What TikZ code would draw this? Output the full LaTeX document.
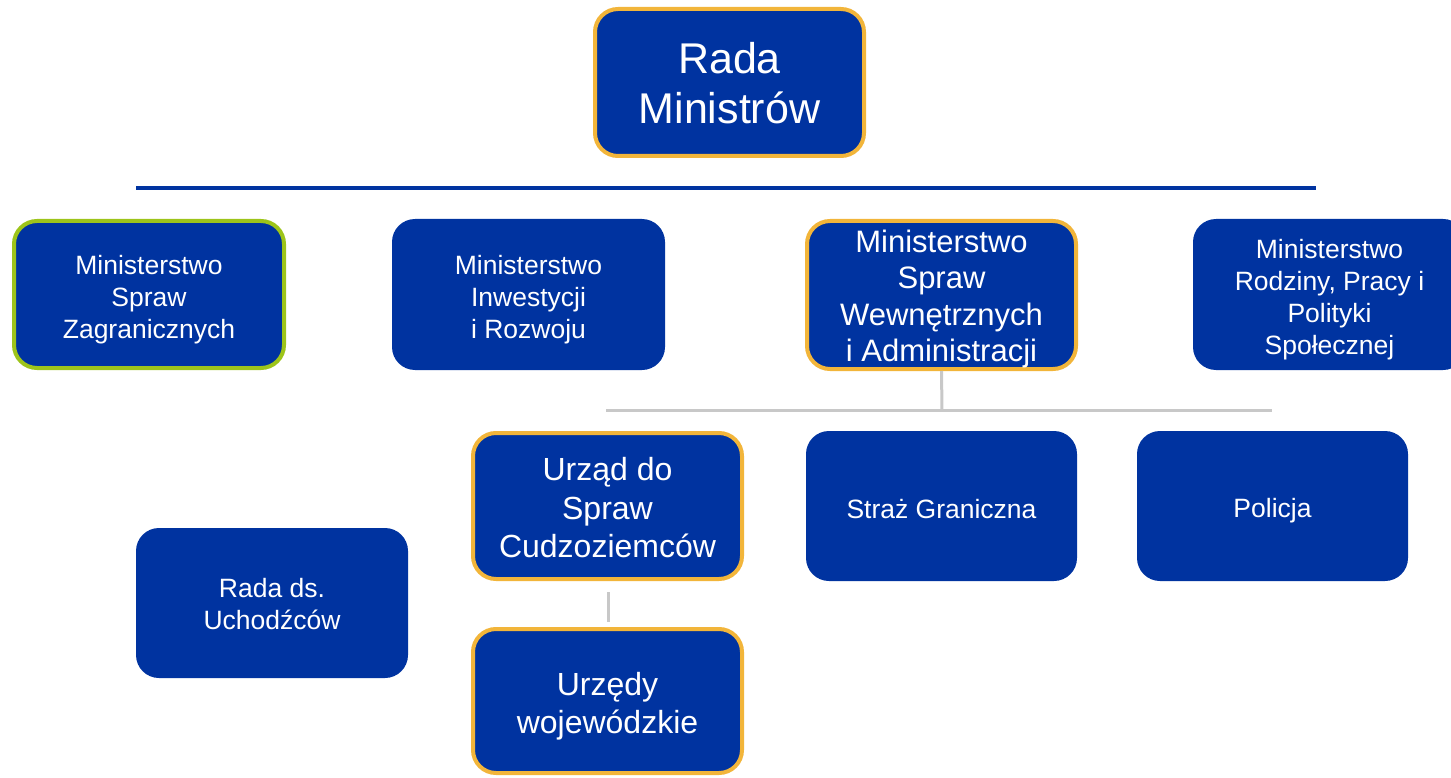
\documentclass[tikz,border=0pt]{standalone}
\usepackage{fontspec}
\setmainfont{Liberation Sans}
\definecolor{boxblue}{HTML}{0033A0}
\definecolor{bordorange}{HTML}{F2B53A}
\definecolor{bordgreen}{HTML}{9DC41A}
\definecolor{linegray}{HTML}{C8C8C8}
\begin{document}
\begin{tikzpicture}[x=1pt,y=-1pt,
  box/.style={rectangle, rounded corners=23pt, fill=boxblue, inner sep=0pt},
  plain/.style={box, draw=none, minimum width=272pt, minimum height=150pt},
  obox/.style={box, draw=bordorange, line width=4pt, minimum width=269pt, minimum height=147pt},
  gbox/.style={box, draw=bordgreen, line width=4pt, minimum width=270pt, minimum height=147pt},
  txt/.style={text=white, align=center, inner sep=0pt},
  fsmall/.style={txt, font=\fontsize{26.5}{32}\selectfont},
  fmid/.style={txt, font=\fontsize{31}{36.5}\selectfont},
  fbig/.style={txt, font=\fontsize{32}{38.5}\selectfont},
  fhuge/.style={txt, font=\fontsize{43}{50}\selectfont},
  glin/.style={draw=linegray, line width=3pt},
]
\useasboundingbox (0,0) rectangle (1451,778);
\begin{scope}
\clip (0,0) rectangle (1451,778);
\node[obox, label={[fhuge, yshift=-1pt]center:{Rada\\Ministrów}}] (rada) at (729.5,82.5) {};
\node[gbox, label={[fsmall, yshift=-5pt]center:{Ministerstwo\\Spraw\\Zagranicznych}}] (msz) at (149,294.5) {};
\node[plain, minimum width=273pt, minimum height=151pt, label={[fsmall, yshift=-5pt]center:{Ministerstwo\\Inwestycji\\i Rozwoju}}] (miir) at (528.5,294.5) {};
\node[obox, minimum height=148pt, label={[fmid, yshift=-4pt]center:{Ministerstwo\\Spraw\\Wewnętrznych\\i Administracji}}] (mswia) at (941.5,295) {};
\node[plain, minimum width=273pt, minimum height=151pt, label={[fsmall, yshift=-5pt]center:{Ministerstwo\\Rodziny, Pracy i\\Polityki\\Społecznej}}] (mrpips) at (1329.5,294.5) {};
\node[obox, minimum height=146pt, label={[fbig, yshift=-2pt]center:{Urząd do\\Spraw\\Cudzoziemców}}] (udsc) at (607.5,506) {};
\node[plain, minimum width=271pt, label={[fsmall, yshift=-3pt]center:{Straż Graniczna}}] (sg) at (941.5,506) {};
\node[plain, minimum width=271pt, label={[fsmall, yshift=-5pt]center:{Policja}}] (pol) at (1272.5,506) {};
\node[plain, label={[fsmall, yshift=-1pt]center:{Rada ds.\\Uchodźców}}] (rdsu) at (272,603) {};
\node[obox, minimum height=144pt, label={[fbig, yshift=-5pt]center:{Urzędy\\wojewódzkie}}] (uw) at (607.5,701) {};
\end{scope}
% top blue line
\coordinate (bl) at (136,188);
\coordinate (br) at (1316,188);
\draw[draw=boxblue, line width=4pt] (bl) -- (br);
% gray connectors
\coordinate (gl) at (606,410);
\coordinate (gr) at (1272,410);
\coordinate (gm) at (942,410);
\draw[glin] (gl) -- (gr);
\draw[glin] (mswia.south) -- (gm);
\coordinate (vt) at (608,592);
\coordinate (vb) at (608,622);
\draw[glin] (vt) -- (vb);
\end{tikzpicture}
\end{document}
